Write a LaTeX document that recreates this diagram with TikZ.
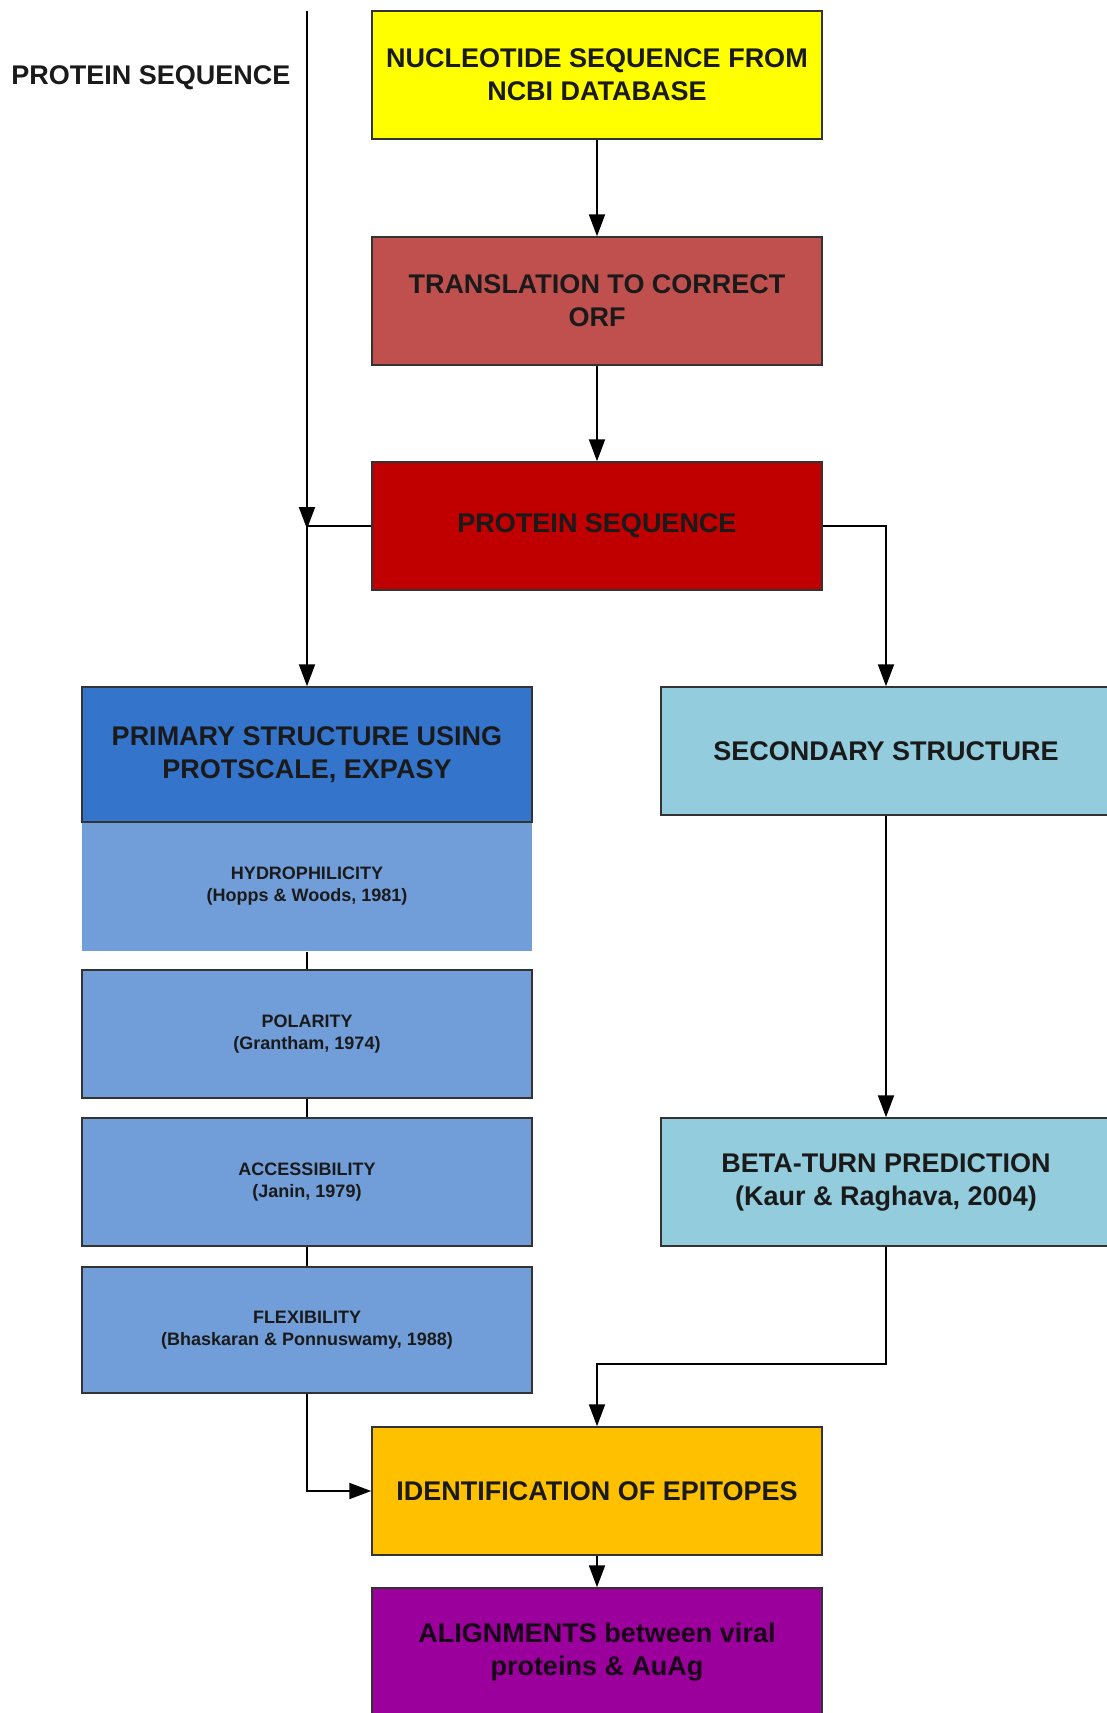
\documentclass[tikz,border=0pt]{standalone}
\usepackage{fontspec}
\setmainfont{Liberation Sans}
\usetikzlibrary{arrows.meta}
\definecolor{cyel}{HTML}{FFFF00}
\definecolor{ctrans}{HTML}{C0504D}
\definecolor{cprot}{HTML}{C00000}
\definecolor{cprim}{HTML}{3474CB}
\definecolor{clight}{HTML}{719ED9}
\definecolor{csec}{HTML}{93CDDD}
\definecolor{cident}{HTML}{FFC000}
\definecolor{calign}{HTML}{9C009C}
\definecolor{cedge}{HTML}{333333}
\definecolor{ctext}{HTML}{1A1A1A}
\tikzset{
  box/.style={draw=cedge, line width=1.5pt, minimum width=450pt, minimum height=128pt,
    inner sep=0pt, align=center, text=ctext, font=\bfseries\fontsize{27}{33}\selectfont},
  smallbox/.style={box, font=\bfseries\fontsize{18}{22}\selectfont},
  arr/.style={line width=2pt, -{Triangle[length=22pt,width=16pt]}},
  link/.style={line width=2pt},
}
\begin{document}
\begin{tikzpicture}[x=1pt,y=-1pt]
\clip (0,0) rectangle (1107,1713);
\fill[white] (0,0) rectangle (1107,1713);

\node[font=\bfseries\fontsize{27}{33}\selectfont, text=ctext] (lbl) at (151,78) {PROTEIN SEQUENCE};
\coordinate (start) at (307,11);

\node[box, fill=cyel] (nuc) at (597,75) {NUCLEOTIDE SEQUENCE FROM\\NCBI DATABASE};
\node[box, fill=ctrans] (trans) at (597,301) {TRANSLATION TO CORRECT\\ORF};
\node[box, fill=cprot] (prot) at (597,526) {PROTEIN SEQUENCE};

\node[smallbox, draw=none, fill=clight, minimum height=129pt] (hydro) at (307,886.5) {HYDROPHILICITY\\(Hopps \& Woods, 1981)};
\node[box, fill=cprim, minimum height=135pt] (prim) at (307,754.5) {PRIMARY STRUCTURE USING\\PROTSCALE, EXPASY};
\node[smallbox, fill=clight] (pol) at (307,1034) {POLARITY\\(Grantham, 1974)};
\node[smallbox, fill=clight] (acc) at (307,1182) {ACCESSIBILITY\\(Janin, 1979)};
\node[smallbox, fill=clight, minimum height=126pt] (flex) at (307,1330) {FLEXIBILITY\\(Bhaskaran \& Ponnuswamy, 1988)};

\node[box, fill=csec] (sec) at (886,751) {SECONDARY STRUCTURE};
\node[box, fill=csec] (beta) at (886,1182) {BETA-TURN PREDICTION\\(Kaur \& Raghava, 2004)};

\node[box, fill=cident] (ident) at (597,1491) {IDENTIFICATION OF EPITOPES};
\node[box, fill=calign, text=black!85!calign] (align) at (597,1652) {ALIGNMENTS between viral\\proteins \& AuAg};

\coordinate (bend) at (742,1364);

\draw[arr] (nuc.south) -- (trans.north);
\draw[arr] (trans.south) -- (prot.north);
\draw[arr] (start) -- ([yshift=-3pt]start |- prot.west);
\draw[arr] (prot.west) -| (prim.north);
\draw[arr] (prot.east) -| (sec.north);
\draw[arr] (sec.south) -- (beta.north);
\draw[arr] (beta.south) |- (bend) -| (ident.north);
\draw[arr] (flex.south) |- (ident.west);
\draw[arr] (ident.south) -- (align.north);
\draw[link] (hydro.south) -- (pol.north);
\draw[link] (pol.south) -- (acc.north);
\draw[link] (acc.south) -- (flex.north);
\end{tikzpicture}
\end{document}
